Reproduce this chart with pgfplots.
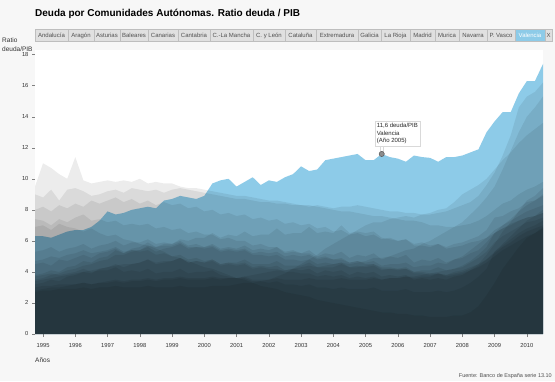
\documentclass[border=0pt]{standalone}
\usepackage{pgfplots}
\pgfplotsset{compat=1.18}
\usepackage{pgfplotstable}
\usepackage{fontspec}
\setmainfont{Liberation Sans}
\definecolor{valblue}{RGB}{141,203,232}
\definecolor{bgpage}{RGB}{247,247,247}
\definecolor{tabgray}{RGB}{224,224,224}
\definecolor{tabborder}{RGB}{190,190,190}
\definecolor{txtgray}{RGB}{80,80,80}

\pgfplotstableread{
t VAL GAL CAT AND NAV PV EXT CAN ARA AST MAD CANT CYL MUR RIO BAL CLM
1994.75 6.3 9.5 9.0 8.0 7.4 6.9 5.3 4.7 4.5 3.8 3.5 3.4 3.2 3.7 2.8 2.7 3.0
1995.00 6.3 11.0 8.8 8.2 7.3 7.0 5.4 4.8 4.6 3.9 3.6 3.5 3.3 3.8 2.9 2.8 3.1
1995.25 6.2 10.7 9.3 7.9 7.0 6.7 5.6 5.0 4.4 4.1 3.8 3.6 3.5 3.9 3.0 2.8 3.1
1995.50 6.4 10.3 8.6 8.3 7.4 7.1 5.3 4.9 4.8 4.0 3.9 3.7 3.4 3.8 3.0 2.9 3.2
1995.75 6.6 10.0 9.3 8.1 7.2 6.9 5.5 5.1 4.7 4.3 4.1 3.8 3.7 3.9 3.1 2.9 3.2
1996.00 6.7 11.4 9.4 8.4 7.5 6.8 5.6 5.2 4.9 4.4 4.2 3.9 3.8 4.0 3.2 2.9 3.2
1996.25 6.7 9.9 9.2 8.2 7.7 6.6 5.8 5.4 5.1 4.7 4.4 4.0 4.0 4.2 3.3 3.0 3.3
1996.50 6.9 9.7 8.9 8.6 7.3 6.8 5.5 5.2 4.9 4.6 4.5 4.1 3.9 4.0 3.2 2.9 3.2
1996.75 7.3 9.8 9.0 8.4 7.4 6.5 5.7 5.3 5.2 4.9 4.7 4.2 4.2 4.1 3.3 3.0 3.3
1997.00 7.9 9.9 9.2 8.6 7.2 6.3 5.8 5.4 5.3 5.0 4.8 4.3 4.3 4.1 3.4 3.0 3.3
1997.25 7.7 9.8 9.3 8.8 7.3 6.4 6.0 5.6 5.5 5.4 5.1 4.4 4.5 4.3 3.5 3.1 3.4
1997.50 7.8 9.9 9.1 8.5 7.0 6.1 5.7 5.3 5.2 5.2 5.1 4.5 4.3 4.0 3.4 3.0 3.3
1997.75 8.0 9.8 9.4 8.7 7.1 6.0 5.9 5.4 5.4 5.5 5.3 4.5 4.5 4.1 3.5 3.0 3.4
1998.00 8.1 10.0 9.3 8.4 7.0 5.8 5.9 5.3 5.4 5.6 5.4 4.6 4.6 4.0 3.5 3.0 3.4
1998.25 8.2 9.7 9.2 8.6 7.1 5.7 6.1 5.4 5.6 5.9 5.7 4.8 4.8 4.2 3.6 3.1 3.5
1998.50 8.1 9.8 9.3 8.3 6.8 5.5 5.8 5.1 5.3 5.6 5.6 4.6 4.5 3.9 3.5 3.0 3.4
1998.75 8.6 9.7 9.1 8.5 6.9 5.3 5.9 5.2 5.5 5.7 5.8 4.7 4.6 4.0 3.6 3.0 3.5
1999.00 8.7 9.7 9.3 8.3 6.7 5.0 5.8 5.0 5.6 5.7 5.8 4.7 4.7 4.0 3.6 3.0 3.5
1999.25 8.9 9.5 9.4 8.4 6.8 4.9 6.0 5.1 5.8 5.9 6.1 4.9 4.9 4.2 3.7 3.1 3.6
1999.50 8.8 9.4 9.3 8.1 6.5 4.7 5.7 4.8 5.5 5.6 6.0 4.6 4.6 3.9 3.6 3.0 3.5
1999.75 8.7 9.4 9.2 8.2 6.6 4.5 5.8 4.9 5.6 5.6 6.2 4.7 4.7 4.0 3.6 3.0 3.5
2000.00 8.9 9.3 9.1 7.9 6.4 4.3 5.6 4.7 5.6 5.5 6.2 4.6 4.6 4.0 3.6 3.0 3.5
2000.25 9.7 9.2 9.0 8.0 6.4 4.2 5.8 4.8 5.7 5.6 6.5 4.7 4.8 4.1 3.7 3.1 3.6
2000.50 9.9 9.1 8.9 7.7 6.1 4.0 5.5 4.5 5.4 5.3 6.2 4.4 4.5 3.8 3.6 3.1 3.5
2000.75 10.0 9.0 8.8 7.8 6.2 3.8 5.6 4.6 5.5 5.4 6.4 4.5 4.6 3.7 3.6 3.1 3.6
2001.00 9.5 8.9 8.7 7.6 6.0 3.6 5.5 4.5 5.4 5.3 6.3 4.4 4.6 3.6 3.6 3.2 3.6
2001.25 9.8 8.9 8.7 7.7 6.0 3.5 5.7 4.6 5.5 5.4 6.6 4.5 4.8 3.6 3.7 3.3 3.7
2001.50 10.1 8.8 8.6 7.4 5.7 3.3 5.4 4.3 5.2 5.1 6.3 4.2 4.5 3.4 3.5 3.3 3.8
2001.75 9.6 8.7 8.5 7.5 5.8 3.1 5.5 4.4 5.3 5.1 6.4 4.3 4.5 3.4 3.5 3.4 3.9
2002.00 9.9 8.6 8.5 7.3 5.6 3.0 5.4 4.3 5.2 5.0 6.4 4.2 4.5 3.3 3.5 3.5 4.0
2002.25 9.8 8.6 8.4 7.4 5.6 2.9 5.6 4.4 5.3 5.1 6.8 4.2 4.7 3.4 3.6 3.7 4.1
2002.50 10.1 8.5 8.4 7.1 5.3 2.7 5.2 4.1 5.0 4.8 6.4 4.0 4.4 3.2 3.5 3.9 4.1
2002.75 10.3 8.4 8.3 7.2 5.4 2.6 5.3 4.2 5.1 4.8 6.5 4.0 4.4 3.2 3.5 4.2 4.2
2003.00 10.8 8.3 8.3 7.0 5.2 2.5 5.2 4.1 5.0 4.7 6.5 3.9 4.4 3.1 3.5 4.5 4.3
2003.25 10.5 8.3 8.2 7.1 5.2 2.4 5.4 4.2 5.1 4.8 6.9 3.9 4.6 3.2 3.6 4.8 4.4
2003.50 10.6 8.2 8.3 6.8 4.9 2.2 5.0 3.9 4.8 4.5 6.5 3.7 4.3 3.0 3.5 5.1 4.3
2003.75 11.2 8.1 8.2 6.9 5.0 2.1 5.2 4.1 4.9 4.6 6.6 3.8 4.3 3.0 3.5 5.5 4.4
2004.00 11.3 8.0 8.1 6.6 4.8 2.0 5.1 4.0 4.8 4.5 6.5 3.7 4.3 2.9 3.5 5.8 4.5
2004.25 11.4 7.9 8.2 6.7 4.8 1.9 5.3 4.1 4.9 4.6 7.0 3.8 4.5 3.0 3.6 6.1 4.6
2004.50 11.5 7.9 8.2 6.4 4.6 1.8 4.9 3.8 4.6 4.3 6.5 3.6 4.3 2.9 3.5 6.4 4.5
2004.75 11.6 7.8 8.3 6.5 4.7 1.7 5.1 4.0 4.7 4.4 6.6 3.7 4.3 2.9 3.5 6.7 4.6
2005.00 11.2 7.7 8.2 6.3 4.5 1.6 5.0 3.9 4.6 4.3 6.5 3.6 4.4 2.9 3.5 7.0 4.7
2005.25 11.2 7.6 8.1 6.4 4.5 1.5 5.2 4.0 4.7 4.4 6.6 3.7 4.5 3.0 3.6 7.2 4.9
2005.50 11.6 7.6 8.0 6.1 4.3 1.4 4.8 3.7 4.4 4.1 6.2 3.5 4.2 2.8 3.5 7.2 4.9
2005.75 11.4 7.5 7.9 6.2 4.3 1.4 5.0 3.8 4.5 4.2 6.1 3.6 4.2 2.8 3.6 7.4 5.0
2006.00 11.3 7.4 7.9 6.0 4.2 1.3 4.9 3.7 4.5 4.1 6.0 3.6 4.2 2.8 3.6 7.5 5.2
2006.25 11.1 7.3 7.8 6.1 4.2 1.3 5.1 3.8 4.6 4.2 6.1 3.7 4.3 2.9 3.7 7.6 5.4
2006.50 11.5 7.3 7.8 5.8 4.0 1.2 4.6 3.5 4.3 3.9 5.7 3.6 4.0 2.7 3.7 7.5 5.5
2006.75 11.4 7.2 7.7 5.9 4.0 1.2 4.8 3.6 4.4 3.9 5.7 3.7 4.1 2.7 3.8 7.7 5.8
2007.00 11.35 7.0 7.7 5.7 3.9 1.1 4.7 3.5 4.4 3.8 5.6 3.7 4.1 2.7 3.9 7.8 6.0
2007.25 11.1 7.0 7.8 5.8 3.9 1.1 4.9 3.6 4.6 3.9 5.8 3.9 4.3 2.8 4.0 8.0 6.3
2007.50 11.4 6.9 7.9 5.6 3.8 1.1 4.6 3.5 4.5 3.7 5.5 3.8 4.1 2.7 4.1 8.1 6.6
2007.75 11.4 6.9 8.1 5.8 3.9 1.2 4.8 3.7 4.8 3.8 5.6 4.0 4.2 2.8 4.2 8.5 6.9
2008.00 11.5 7.0 8.3 5.9 4.0 1.2 4.9 3.8 5.0 3.9 5.7 4.1 4.3 3.0 4.4 9.0 7.2
2008.25 11.7 7.1 8.5 6.1 4.2 1.4 5.2 4.1 5.4 4.1 5.9 4.3 4.6 3.3 4.7 9.3 7.7
2008.50 11.9 7.3 8.9 6.3 4.5 1.8 5.4 4.4 5.8 4.3 6.0 4.5 4.9 3.7 5.1 9.6 8.2
2008.75 13.0 7.6 9.6 6.7 5.1 2.5 5.9 4.8 6.2 4.6 6.2 4.8 5.3 4.2 5.6 10.0 8.8
2009.00 13.7 8.0 10.4 7.5 5.8 3.3 6.5 5.3 6.7 5.0 6.5 5.2 5.9 5.3 6.5 10.6 9.5
2009.25 14.3 8.4 11.5 7.6 6.6 4.2 7.0 5.7 7.0 5.4 6.8 5.6 6.3 5.8 6.8 11.2 10.6
2009.50 14.3 8.6 12.8 7.9 7.2 4.9 7.4 6.1 7.3 5.7 7.0 5.9 6.6 6.3 7.1 11.7 11.8
2009.75 15.5 9.0 14.6 8.1 7.9 5.6 7.9 6.5 7.6 6.0 7.3 6.3 6.9 6.8 7.3 12.3 13.0
2010.00 16.3 9.3 15.3 8.5 8.6 6.2 8.3 6.8 7.9 6.3 7.5 6.6 7.2 7.3 7.5 12.8 14.0
2010.25 16.3 9.5 15.6 8.6 8.9 6.5 8.6 7.0 8.1 6.5 7.6 6.8 7.3 7.6 7.6 13.2 14.6
2010.50 17.4 9.8 16.2 8.9 9.4 6.9 9.0 7.3 8.3 6.8 7.8 7.0 7.5 8.0 7.8 13.6 15.3
}\datos

\begin{document}
\begin{tikzpicture}
\fill[bgpage] (0pt,0pt) rectangle (555pt,381pt);
\node[anchor=west,inner sep=0pt,font=\bfseries\fontsize{10}{12}\selectfont] at (35pt,367pt) {Deuda por Comunidades Autónomas. Ratio deuda / PIB};
\foreach \a/\b/\l in {35/68/Andalucía,68/94/Aragón,94/120/Asturias,120/148/Baleares,148/178/Canarias,178/210/Cantabria,210/253/C.-La Mancha,253/285/C. y León,285/316/Cataluña,316/358/Extremadura,358/381/Galicia,381/410/La Rioja,410/435/Madrid,435/459/Murica,459/487/Navarra,487/515/P. Vasco,545/552/X}{
  \draw[tabborder,fill=tabgray,line width=0.5pt] (\a pt,340pt) rectangle (\b pt,352pt);
  \node[font=\fontsize{6}{7}\selectfont,text=txtgray,inner sep=0pt,anchor=base] at ({(\a+\b)/2*1pt},343.9pt) {\l};
}
\draw[tabborder,fill=valblue,line width=0.5pt] (515pt,340pt) rectangle (545pt,352pt);
\node[font=\fontsize{6}{7}\selectfont,text=white,inner sep=0pt,anchor=base] at (530pt,343.9pt) {Valencia};
\node[anchor=west,inner sep=0pt,font=\fontsize{6.5}{7}\selectfont,text=black!80] at (2pt,341pt) {Ratio};
\node[anchor=west,inner sep=0pt,font=\fontsize{6.5}{7}\selectfont,text=black!80] at (2pt,332pt) {deuda/PIB};
\node[anchor=west,inner sep=0pt,font=\fontsize{6.5}{7}\selectfont,text=black!80] at (35pt,21pt) {Años};
\node[anchor=east,inner sep=0pt,font=\fontsize{5.5}{6}\selectfont,text=txtgray] at (552pt,5pt) {Fuente: Banco de España serie 13.10};
\begin{axis}[
  at={(35pt,47pt)}, anchor=south west, scale only axis,
  width=508pt, height=284pt,
  xmin=1994.75, xmax=2010.5, ymin=0, ymax=18.3,
  axis background/.style={fill=white},
  axis line style={draw=none},
  xtick={1995,1996,...,2010}, minor x tick num=3,
  ytick={0,2,...,18},
  tick pos=left, tick align=outside,
  major tick length=3pt, minor tick length=1.5pt,
  tick style={black!50,line width=0.4pt},
  ticklabel style={font=\fontsize{5.8}{7}\selectfont,text=black!80},
  xticklabel style={/pgf/number format/1000 sep={},yshift=-3pt},
  /pgf/number format/assume math mode=true,
]
\addplot[fill=valblue,draw=none] table[x=t,y=VAL]{\datos} \closedcycle;
\pgfplotsinvokeforeach{GAL,CAT,AND,NAV,PV,EXT,CAN,ARA,AST,MAD,CANT,CYL,MUR,RIO,BAL,CLM}{
  \addplot[fill=black,fill opacity=0.075,draw=none] table[x=t,y=#1]{\datos} \closedcycle;
}
\draw[black!15,fill=white] ([xshift=-1.5pt,yshift=3pt]axis cs:2005.5,11.6) rectangle ([xshift=1.5pt,yshift=8pt]axis cs:2005.5,11.6);
\addplot[only marks,mark=*,mark size=2.6pt,mark options={fill=black!45,draw=black!65,line width=0.5pt}] coordinates {(2005.5,11.6)};
\node[draw=black!15,fill=white,anchor=south west,align=left,inner sep=2pt,font=\fontsize{6}{7.5}\selectfont,text=black!85] at ([xshift=-7pt,yshift=8pt]axis cs:2005.5,11.6) {11,6 deuda/PIB\\Valencia\\(Año 2005)};
\end{axis}
\end{tikzpicture}
\end{document}
